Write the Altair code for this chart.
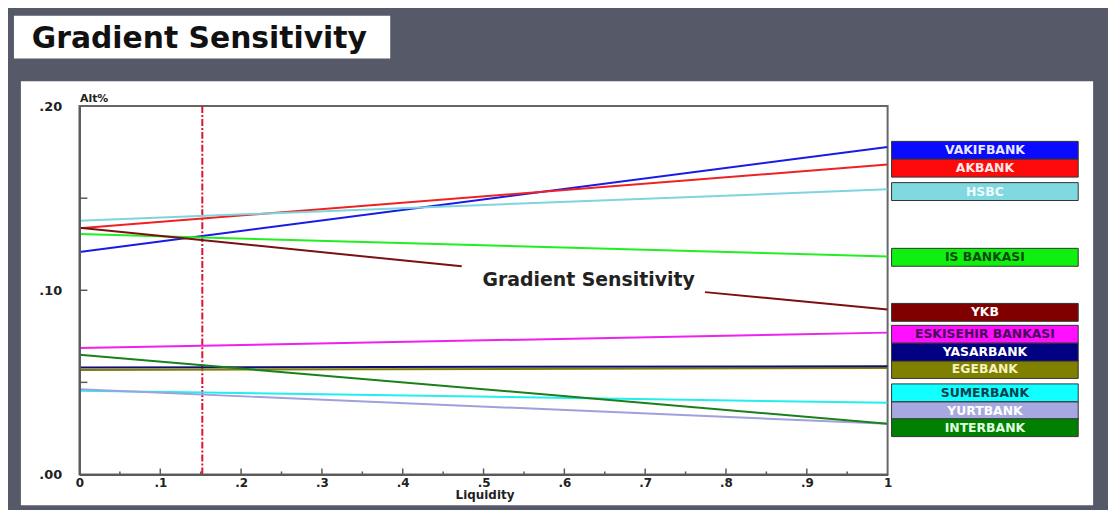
import altair as alt
import pandas as pd

# ---------------- data ----------------
banks = ["VAKIFBANK", "AKBANK", "HSBC", "IS BANKASI", "YKB", "ESKISEHIR BANKASI",
         "EGEBANK", "YASARBANK", "SUMERBANK", "YURTBANK", "INTERBANK"]
start_vals = [0.1208, 0.1337, 0.1378, 0.1305, 0.1340, 0.0686,
              0.0567, 0.0581, 0.0455, 0.0462, 0.0650]
end_vals = [0.1778, 0.1683, 0.1548, 0.1184, 0.0896, 0.0770,
            0.0578, 0.0587, 0.0389, 0.0275, 0.0275]
label_pos = [0.1760, 0.1663, 0.1536, 0.1179, 0.0880, 0.0761,
             0.0570, 0.0664, 0.0443, 0.0345, 0.0254]
line_colors = ["#1a1ae6", "#ee2222", "#7fd4de", "#22ee22", "#7a1010", "#ee22ee",
               "#808000", "#101070", "#22eeee", "#a0a0dc", "#1a801a"]
box_colors = ["#0a0aff", "#ff0a0a", "#80d8e0", "#10f010", "#800000", "#ff10ff",
              "#808000", "#000080", "#10ffff", "#a8a8e0", "#008000"]
text_colors = ["#e8e8ff", "#ffe8e8", "#eefcff", "#0a4a0a", "#ffffff", "#4a0a5a",
               "#f4f4c0", "#ffffff", "#0a4050", "#ffffff", "#e0ffe0"]

# YKB line is interrupted around the annotation
ykb_gap_x = [0.473, 0.774]
ykb_gap_y = [0.1130, 0.0990]

cutoff_x = 0.152
annot_text = "Gradient Sensitivity"
annot_x, annot_y = 0.630, 0.1058

x_major = [0.1, 0.2, 0.3, 0.4, 0.5, 0.6, 0.7, 0.8, 0.9]
x_minor = [0.05, 0.15, 0.25, 0.35, 0.45, 0.55, 0.65, 0.75, 0.85, 0.95]
y_minor = [0.05, 0.10, 0.15]

title_text = "Gradient Sensitivity"

# ---------------- tables ----------------
rows = []
for b, s, e, c in zip(banks, start_vals, end_vals, line_colors):
    if b == "YKB":
        rows += [dict(seg="YKB-a", x=0.0, y=s, c=c),
                 dict(seg="YKB-a", x=ykb_gap_x[0], y=ykb_gap_y[0], c=c),
                 dict(seg="YKB-b", x=ykb_gap_x[1], y=ykb_gap_y[1], c=c),
                 dict(seg="YKB-b", x=1.0, y=e, c=c)]
    else:
        rows += [dict(seg=b, x=0.0, y=s, c=c), dict(seg=b, x=1.0, y=e, c=c)]
lines_df = pd.DataFrame(rows)

half = 0.00486
labels_df = pd.DataFrame({
    "bank": banks,
    "pos": label_pos,
    "top": [p + half for p in label_pos],
    "bot": [p - half for p in label_pos],
    "fill": box_colors,
    "tc": text_colors,
})

one = pd.DataFrame({"k": [0]})

X = alt.Scale(domain=[0, 1], nice=False, zero=False)
Y = alt.Scale(domain=[0, 0.2], nice=False, zero=False)
W, H = 814, 371

panel = alt.Chart(one).mark_rect(fill="white").encode(
    x=alt.value(-59), x2=alt.value(1021), y=alt.value(-25), y2=alt.value(402))

frame = alt.Chart(one).mark_rect(fill=None, stroke="#666666", strokeWidth=2).encode(
    x=alt.value(0), x2=alt.value(W), y=alt.value(0), y2=alt.value(H))

title_box = alt.Chart(one).mark_rect(fill="white").encode(
    x=alt.value(-66), x2=alt.value(313), y=alt.value(-91), y2=alt.value(-48))

title = alt.Chart(one).mark_text(
    font="DejaVu Sans", fontWeight="bold", fontSize=30, color="#111111",
    align="left", baseline="alphabetic").encode(
    x=alt.value(-48), y=alt.value(-59), text=alt.value(title_text))

lines = alt.Chart(lines_df).mark_line(strokeWidth=2, clip=True).encode(
    x=alt.X("x:Q", scale=X,
            axis=alt.Axis(values=[0, 0.1, 0.2, 0.3, 0.4, 0.5, 0.6, 0.7, 0.8, 0.9, 1],
                          labelExpr="datum.value == 0 ? '0' : datum.value == 1 ? '1' : slice(format(datum.value, '.1f'), 1)",
                          ticks=False, grid=False, domainColor="#5a5a5a", domainWidth=2,
                          labelFont="DejaVu Sans", labelFontWeight="bold", labelFontSize=12,
                          labelColor="#222222", labelPadding=3, labelFlush=False,
                          title="Liquidity", titleFont="DejaVu Sans", titleFontWeight="bold",
                          titleFontSize=12, titleColor="#222222", titlePadding=1,
                          titleX=408, zindex=1)),
    y=alt.Y("y:Q", scale=Y,
            axis=alt.Axis(values=[0, 0.1, 0.2],
                          labelExpr="slice(format(datum.value, '.2f'), 1)",
                          ticks=False, grid=False, domainColor="#5a5a5a", domainWidth=2,
                          labelFont="DejaVu Sans", labelFontWeight="bold", labelFontSize=13,
                          labelColor="#222222", labelPadding=18,
                          title="Alt%", titleAngle=0, titleX=0, titleY=-3,
                          titleAlign="left", titleBaseline="bottom",
                          titleFont="DejaVu Sans", titleFontWeight="bold",
                          titleFontSize=11, titleColor="#222222", zindex=1)),
    detail="seg:N",
    color=alt.Color("c:N", scale=None),
)

xmaj = alt.Chart(pd.DataFrame({"x": x_major})).mark_rule(color="#5a5a5a", strokeWidth=1.5).encode(
    x=alt.X("x:Q", scale=X), y=alt.value(H), y2=alt.value(H - 6))
xmin = alt.Chart(pd.DataFrame({"x": x_minor})).mark_rule(color="#5a5a5a", strokeWidth=1.5).encode(
    x=alt.X("x:Q", scale=X), y=alt.value(H), y2=alt.value(H - 3))
ymin = alt.Chart(pd.DataFrame({"y": y_minor})).mark_rule(color="#5a5a5a", strokeWidth=1.5).encode(
    y=alt.Y("y:Q", scale=Y), x=alt.value(0), x2=alt.value(8))

cut = alt.Chart(pd.DataFrame({"x": [cutoff_x]})).mark_rule(
    color="#dd1133", strokeWidth=2, strokeDash=[7, 2, 2, 2]).encode(
    x=alt.X("x:Q", scale=X))

annot = alt.Chart(pd.DataFrame({"x": [annot_x], "y": [annot_y], "t": [annot_text]})).mark_text(
    font="DejaVu Sans", fontWeight="bold", fontSize=19, color="#222222").encode(
    x=alt.X("x:Q", scale=X), y=alt.Y("y:Q", scale=Y), text="t:N")

boxes = alt.Chart(labels_df).mark_rect(stroke="#333333", strokeWidth=1).encode(
    x=alt.value(818), x2=alt.value(1006),
    y=alt.Y("top:Q", scale=Y), y2="bot:Q",
    fill=alt.Color("fill:N", scale=None))

box_text = alt.Chart(labels_df).mark_text(
    font="DejaVu Sans", fontWeight="bold", fontSize=12.5, baseline="middle").encode(
    x=alt.value(912), y=alt.Y("pos:Q", scale=Y), text="bank:N",
    color=alt.Color("tc:N", scale=None))

chart = alt.layer(panel, frame, title_box, title, cut, lines, xmaj, xmin, ymin, annot, boxes, box_text).properties(
    width=W, height=H,
    background="#565a68",
    autosize=alt.AutoSizeParams(type="none"),
    padding={"left": 72, "top": 97, "right": 222, "bottom": 34},
).configure_view(stroke="#666666", strokeWidth=2)

chart.save("out.html", embed_options={"renderer": "svg", "actions": False})
